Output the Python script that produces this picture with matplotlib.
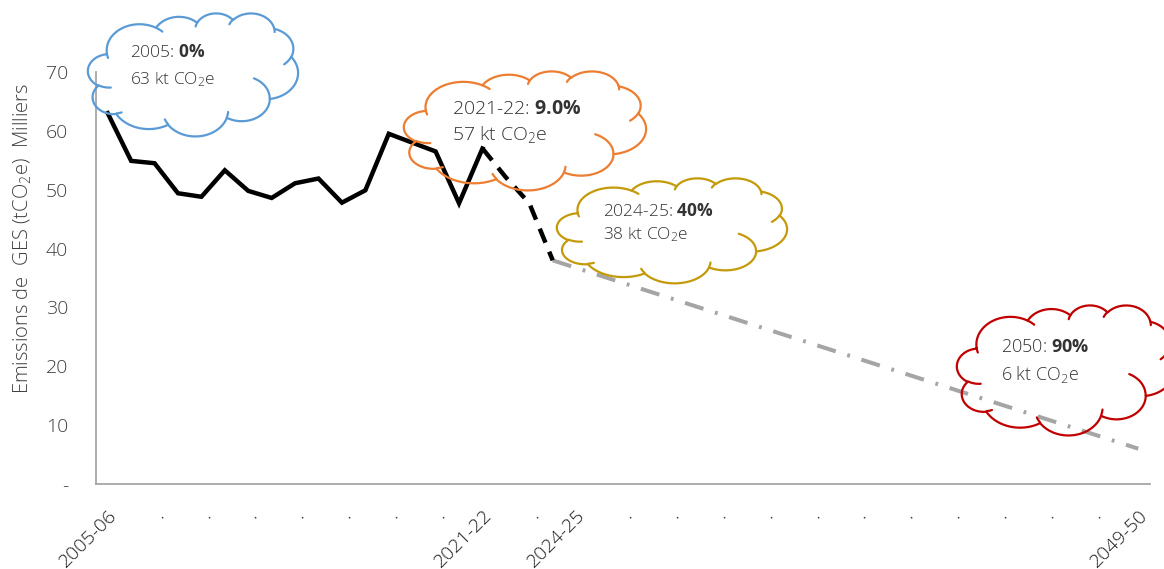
import numpy as np
import matplotlib
matplotlib.use("Agg")
import matplotlib.pyplot as plt
import matplotlib.transforms as mtransforms

plt.rcParams["font.family"] = ["Open Sans", "DejaVu Sans"]
plt.rcParams["font.weight"] = "light"
plt.rcParams["mathtext.fontset"] = "custom"
plt.rcParams["mathtext.rm"] = "Open Sans:light"
plt.rcParams["mathtext.it"] = "Open Sans:light"
plt.rcParams["mathtext.bf"] = "Open Sans:bold"

# ---- data -------------------------------------------------------------
first_year = 2005
n_years = 45  # 2005-06 ... 2049-50
categories = [f"{y}-{(y + 1) % 100:02d}" for y in range(first_year, first_year + n_years)]

# measured emissions (thousands of tCO2e), 2005-06 .. 2021-22
hist_idx = list(range(0, 17))
hist_vals = [63, 54.9, 54.5, 49.4, 48.8, 53.3, 49.8, 48.6, 51.1, 51.9,
             47.8, 49.9, 59.5, 58.0, 56.5, 47.7, 57]

# short-term projection, 2021-22 .. 2024-25
proj_idx = [16, 17, 18, 19]
proj_vals = [57, 52.1, 47.7, 38]

# long-term target path, 2024-25 .. 2049-50
target_idx = [19, 44]
target_vals = [38, 6]

# category axis labels (every second category)
tick_pos = list(range(0, 45, 2))
tick_labels = ["2005-06", ".", ".", ".", ".", ".", ".", ".", "2021-22", ".",
               "2024-25", ".", ".", ".", ".", ".", ".", ".", ".", ".", ".",
               ".", "2049-50"]

y_ticks = [0, 10, 20, 30, 40, 50, 60, 70]
y_tick_labels = ["-", "10", "20", "30", "40", "50", "60", "70"]

# callouts: (bounding box in pixels l, t, r, b), colour, line1, bold part, line2, size
callouts = [
    ((88, 13, 298, 136), "#5B9BD5", "2005: ", "0%", "63 kt CO$_{\\mathregular{2}}$e", 12.5),
    ((404, 71, 646, 190), "#ED7D31", "2021-22: ", "9.0%", "57 kt CO$_{\\mathregular{2}}$e", 14),
    ((557, 178, 787, 283), "#C49A0A", "2024-25: ", "40%", "38 kt CO$_{\\mathregular{2}}$e", 12.5),
    ((957, 305, 1175, 435), "#C00000", "2050: ", "90%", "6 kt CO$_{\\mathregular{2}}$e", 13),
]

# ---- cloud outline (DrawingML preset "cloud") ---------------------------
CLOUD_MAIN = [
    (6753, 9190, -11429249, 7426832), (5333, 7267, -8646143, 5396714),
    (4365, 5945, -8748475, 5983381), (4857, 6595, -7859164, 7034504),
    (5333, 7273, -4722533, 6541615), (6775, 9220, -2776035, 7816140),
    (5785, 7867, 37501, 6842000), (6752, 9215, 1347096, 6910353),
    (7720, 10543, 3974558, 4542661), (4360, 5918, -16496525, 8804134),
    (4345, 5945, -14809710, 9151131),
]
CLOUD_INNER = [
    ((4693, 26177), (4345, 5945, 5204520, 1585770)),
    ((6928, 34899), (4360, 5918, 4416628, 686848)),
    ((16478, 39090), (6752, 9215, 8257449, 844866)),
    ((28827, 34751), (6752, 9215, 387196, 959901)),
    ((34129, 22954), (5785, 7867, -4217541, 4255042)),
    ((41798, 15354), (5333, 7273, 1819082, 1665090)),
    ((38324, 5426), (4857, 6595, -824660, 891534)),
    ((29078, 3952), (4857, 6595, -8950887, 1091722)),
    ((22141, 4720), (4365, 5945, -9809656, 1061181)),
    ((14000, 5192), (6753, 9190, -4002417, 739161)),
    ((4127, 15789), (6753, 9190, 9459261, 711490)),
]


def arc_to(cur, wr, hr, st, sw, n=40):
    st = np.radians(st / 60000.0)
    sw = np.radians(sw / 60000.0)

    def param(th):
        return np.arctan2(wr * np.sin(th), hr * np.cos(th))

    t1 = param(st)
    cx = cur[0] - wr * np.cos(t1)
    cy = cur[1] - hr * np.sin(t1)
    ts = param(np.linspace(st, st + sw, n))
    return np.column_stack([cx + wr * np.cos(ts), cy + hr * np.sin(ts)])


def cloud_paths():
    pts = [np.array([[3900.0, 14370.0]])]
    cur = (3900.0, 14370.0)
    for wr, hr, st, sw in CLOUD_MAIN:
        seg = arc_to(cur, wr, hr, st, sw)
        pts.append(seg)
        cur = tuple(seg[-1])
    main = np.vstack(pts)
    inner = [arc_to(start, *a, n=20) for start, a in CLOUD_INNER]
    return main, inner


def draw_cloud(ax, box, color, lw=1.6):
    l, t, r, b = box
    main, inner = cloud_paths()

    def tf(p):
        return l + p[:, 0] / 43200.0 * (r - l), t + p[:, 1] / 43200.0 * (b - t)

    x, y = tf(main)
    ax.plot(np.append(x, x[0]), np.append(y, y[0]), color=color, lw=lw,
            solid_capstyle="round", solid_joinstyle="round")
    for seg in inner:
        x, y = tf(seg)
        ax.plot(x, y, color=color, lw=lw, solid_capstyle="round")


# ---- figure -----------------------------------------------------------
W, H = 1164, 569
fig = plt.figure(figsize=(W / 100, H / 100), dpi=100)
ax = fig.add_axes([96 / W, 1 - 484 / H, (1150 - 96) / W, (484 - 72) / H])

ax.plot(hist_idx, hist_vals, color="black", lw=3.2, solid_joinstyle="miter",
        zorder=3)
ax.plot(proj_idx, proj_vals, color="black", lw=3.2, dashes=(3.4, 2.2),
        zorder=3)
ax.plot(target_idx, target_vals, color="#A5A5A5", lw=2.9,
        dashes=(4.8, 3.0, 0.7, 3.0), zorder=2)

ax.set_xlim(-0.5, n_years - 0.5)
ax.set_ylim(0, 70)

ax.set_xticks(tick_pos)
ax.set_xticklabels(tick_labels, rotation=45, ha="right",
                   rotation_mode="anchor", fontsize=14, color="#1f1f1f")
shift = mtransforms.ScaledTranslation(-8 / 100, 2 / 100, fig.dpi_scale_trans)
for lab in ax.get_xticklabels():
    lab.set_transform(lab.get_transform() + shift)
ax.set_yticks(y_ticks)
ax.set_yticklabels(y_tick_labels, fontsize=14, color="#404040")
ax.tick_params(axis="x", length=0, pad=16)
ax.tick_params(axis="y", length=0, pad=20)

for side in ("top", "right"):
    ax.spines[side].set_visible(False)
for side in ("left", "bottom"):
    ax.spines[side].set_color("#A6A6A6")
    ax.spines[side].set_linewidth(1.3)

fig.text(23 / W, 1 - 238 / H,
         "Emissions de  GES (tCO$_{\\mathregular{2}}$e)  Milliers",
         rotation=90, ha="center", va="center", fontsize=14.5,
         color="#404040")

# overlay in pixel coordinates for the callouts
ov = fig.add_axes([0, 0, 1, 1], zorder=5)
ov.set_xlim(0, W)
ov.set_ylim(H, 0)
ov.axis("off")
ov.patch.set_alpha(0)

for box, color, head, bold, line2, size in callouts:
    draw_cloud(ov, box, color)
    l, t, r, b = box
    tx = l + 0.2 * (r - l)
    ty1 = t + 0.36 * (b - t)
    ty2 = t + 0.58 * (b - t)
    ov.text(tx, ty1, head + "$\\mathbf{" + bold.replace("%", "\\%") + "}$",
            fontsize=size, color="#333333", va="baseline", ha="left")
    ov.text(tx, ty2, line2, fontsize=size, color="#333333", va="baseline",
            ha="left")

fig.savefig("out.png", dpi=100)
